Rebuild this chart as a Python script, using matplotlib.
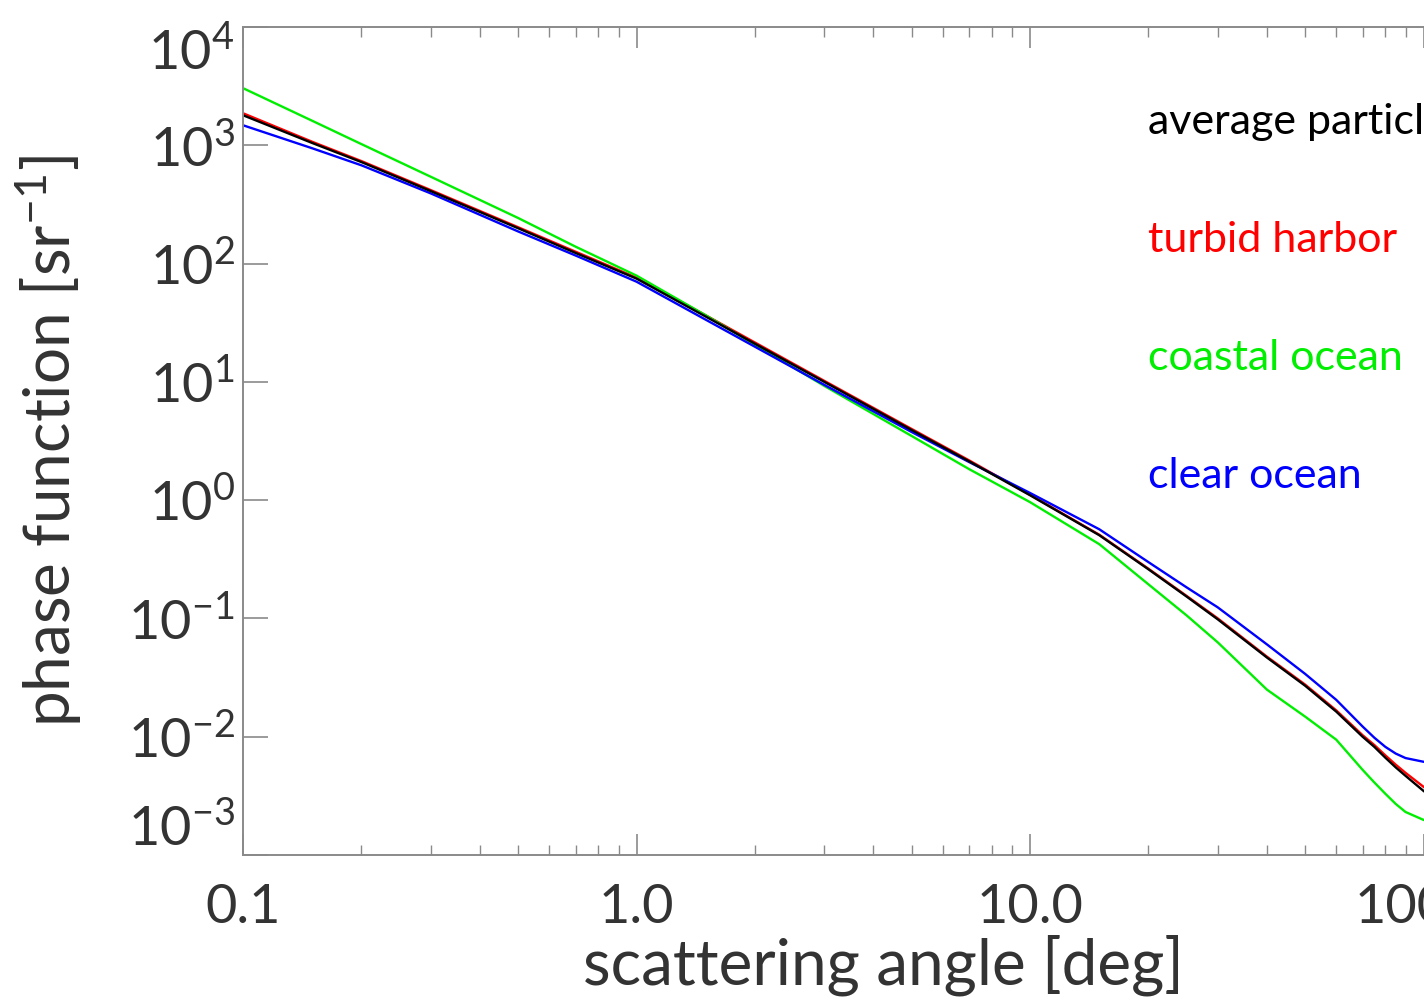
"""
Petzold-type particle phase functions, log-log
"""
import matplotlib
matplotlib.use('Agg')
from matplotlib import pyplot as plt
from matplotlib import ticker

# scattering angle [deg]
angle = [0.1, 0.15, 0.2, 0.3, 0.5, 0.7, 1.0, 1.5, 2.0, 3.0, 5.0, 7.0, 10.0,
         15.0, 20.0, 25.0, 30.0, 40.0, 50.0, 60.0, 70.0, 75.0, 80.0, 85.0, 90.0,
         100.0, 105.0]

# phase function [sr^-1]
average_particle = [1795, 1045, 721, 410, 199, 123, 74.6, 35.6, 21.0, 10.0, 3.92, 2.13, 1.10,
                    0.505, 0.260, 0.153, 0.0982, 0.0467, 0.0270, 0.0163, 0.0100, 0.0082,
                    0.00664, 0.0055, 0.00467, 0.00348, 0.0031]
turbid_harbor = [1866, 1070, 735, 418, 203, 126, 76.0, 36.5, 21.5, 10.2, 4.0, 2.17, 1.11,
                 0.51, 0.263, 0.155, 0.100, 0.0475, 0.0276, 0.0167, 0.0103, 0.0085,
                 0.00695, 0.0058, 0.00495, 0.00377, 0.0034]
coastal_ocean = [3041, 1610, 1023, 542, 243, 139, 79.1, 36.5, 20.6, 9.25, 3.49, 1.83, 0.962,
                 0.424, 0.194, 0.106, 0.0627, 0.0250, 0.0148, 0.00944, 0.00525, 0.0041,
                 0.00329, 0.0027, 0.00231, 0.00198, 0.0019]
clear_ocean = [1477, 943, 677, 392, 187, 117, 70.3, 33.5, 19.8, 9.44, 3.77, 2.10, 1.15,
               0.567, 0.299, 0.183, 0.124, 0.0603, 0.0340, 0.0205, 0.0122, 0.0098,
               0.0082, 0.0072, 0.0066, 0.00614, 0.00614]

series_names = ['average particle', 'turbid harbor', 'coastal ocean', 'clear ocean']
series_colors = ['black', '#ff0000', '#00ee00', '#0000ff']

x_ticks = [0.1, 1.0, 10.0, 100.0]
x_ticklabels = ['0.1', '1.0', '10.0', '100.0']
y_exponents = [-3, -2, -1, 0, 1, 2, 3, 4]

plt.rcParams['font.family'] = ['Lato', 'DejaVu Sans']
plt.rcParams['mathtext.default'] = 'regular'

TEXT = '#333333'
AXIS = '#8a8a8a'

fig = plt.figure(figsize=(14.24, 10.05), dpi=100)
ax = fig.add_axes([243 / 1424, 150 / 1005, 1281 / 1424, 828 / 1005])

# draw order: red under black so it only peeks out
for vals, c in [(turbid_harbor, series_colors[1]), (coastal_ocean, series_colors[2]),
                (clear_ocean, series_colors[3]), (average_particle, series_colors[0])]:
    ax.plot(angle, vals, color=c, lw=1.7, solid_joinstyle='round')

ax.set_xscale('log')
ax.set_yscale('log')
ax.set_xlim(0.1, 180)
ax.set_ylim(1e-3, 1e4)

for s in ax.spines.values():
    s.set_color(AXIS)
    s.set_linewidth(1.4)

ax.xaxis.set_major_locator(ticker.FixedLocator(x_ticks))
ax.xaxis.set_major_formatter(ticker.FixedFormatter(x_ticklabels))
ax.xaxis.set_minor_locator(ticker.LogLocator(base=10, subs=range(2, 10), numticks=20))
ax.xaxis.set_minor_formatter(ticker.NullFormatter())

y_ticks = [10.0 ** e for e in y_exponents]
ax.yaxis.set_major_locator(ticker.FixedLocator(y_ticks))
ax.yaxis.set_major_formatter(ticker.FixedFormatter(
    [r'$\mathregular{10^{%d}}$' % e for e in y_exponents]))
ax.yaxis.set_minor_locator(ticker.NullLocator())

ax.tick_params(axis='x', which='major', direction='in', top=True, length=15, width=1.2,
               color=AXIS, pad=20, labelsize=39, labelcolor=TEXT)
ax.tick_params(axis='x', which='minor', direction='in', top=True, length=7, width=1.0,
               color=AXIS)
ax.tick_params(axis='y', which='major', direction='in', length=18, width=1.2,
               color=AXIS, pad=6, labelsize=39, labelcolor=TEXT)

ax.set_xlabel('scattering angle [deg]', fontsize=46, color=TEXT, labelpad=2)
ax.set_ylabel(r'phase function [sr$^{-1}$]', fontsize=46, color=TEXT, labelpad=31)

# legend as coloured text, one decade apart
for i, (name, c) in enumerate(zip(series_names, series_colors)):
    ax.text(20, 10 ** (3.2 - i), name, color=c, fontsize=31, va='center', ha='left')

fig.canvas.draw()
labels = ax.get_yticklabels()
labels[0].set_va('bottom')
labels[-1].set_va('top')

fig.savefig('out.png', dpi=100)
